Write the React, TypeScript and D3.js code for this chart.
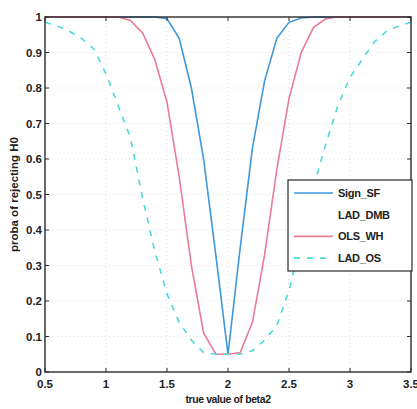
import React from 'react';
import * as d3 from 'd3';

// true value of beta2 (x)
const betaValues = [
  0.5, 0.6, 0.7, 0.8, 0.9, 1.0, 1.1, 1.2, 1.3, 1.4, 1.5, 1.6, 1.7, 1.8, 1.9, 2.0,
  2.1, 2.2, 2.3, 2.4, 2.5, 2.6, 2.7, 2.8, 2.9, 3.0, 3.1, 3.2, 3.3, 3.4, 3.5,
];

// rejection probabilities
const signSF = [
  1, 1, 1, 1, 1, 1, 1, 1, 1, 1, 0.995, 0.94, 0.8, 0.6, 0.33, 0.05,
  0.35, 0.63, 0.82, 0.94, 0.985, 0.997, 1, 1, 1, 1, 1, 1, 1, 1, 1,
];
const olsWH = [
  1, 1, 1, 1, 1, 1, 1, 0.99, 0.955, 0.88, 0.76, 0.55, 0.3, 0.11, 0.05, 0.05,
  0.055, 0.14, 0.33, 0.57, 0.77, 0.9, 0.97, 0.995, 1, 1, 1, 1, 1, 1, 1,
];
const ladOS = [
  0.985, 0.975, 0.96, 0.94, 0.91, 0.84, 0.75, 0.66, 0.49, 0.34, 0.22, 0.14, 0.09, 0.055, 0.05, 0.05,
  0.05, 0.06, 0.09, 0.13, 0.23, 0.37, 0.52, 0.64, 0.75, 0.83, 0.88, 0.93, 0.96, 0.975, 0.985,
];

const legendNames = ['Sign_SF', 'LAD_DMB', 'OLS_WH', 'LAD_OS'];
const xTicks = [0.5, 1, 1.5, 2, 2.5, 3, 3.5];
const yTicks = [0, 0.1, 0.2, 0.3, 0.4, 0.5, 0.6, 0.7, 0.8, 0.9, 1];

const W = 417;
const H = 409;
const margin = { top: 17, right: 6, bottom: 37, left: 45 };
const font = '"Liberation Sans", Arial, sans-serif';

const series = [
  { name: 'Sign_SF', values: signSF, color: '#3f97dc', dash: undefined },
  { name: 'OLS_WH', values: olsWH, color: '#ea7c94', dash: undefined },
  { name: 'LAD_OS', values: ladOS, color: '#4cd9dc', dash: '6,7' },
];
const legendStyle: Record<string, { color: string; dash?: string }> = {
  Sign_SF: { color: '#3f97dc' },
  LAD_DMB: { color: '#ffffff' },
  OLS_WH: { color: '#ea7c94' },
  LAD_OS: { color: '#4cd9dc', dash: '6,7' },
};

export default function App() {
  const x = d3.scaleLinear().domain([0.5, 3.5]).range([margin.left, W - margin.right]);
  const y = d3.scaleLinear().domain([0, 1]).range([H - margin.bottom, margin.top]);
  const x0 = x.range()[0], x1 = x.range()[1];
  const y0 = y.range()[0], y1 = y.range()[1];

  const line = d3
    .line<number>()
    .x((_, i) => x(betaValues[i]))
    .y((d) => y(d));

  const axisColor = '#2a2a2a';
  const tick = 4;

  // legend box
  const lg = { x: 288, y: 180, w: 124, h: 91 };

  return (
    <svg width={W} height={H} style={{ position: 'absolute', left: 0, top: 0, background: '#fff' }}>
      <rect x={0} y={0} width={W} height={H} fill="#fff" />
      {/* grid */}
      <g stroke="#d8d8d8" strokeWidth={0.8} strokeDasharray="1,3">
        {xTicks.slice(1, -1).map((t) => (
          <line key={'gx' + t} x1={x(t)} x2={x(t)} y1={y0} y2={y1} />
        ))}
        {yTicks.slice(1, -1).map((t) => (
          <line key={'gy' + t} x1={x0} x2={x1} y1={y(t)} y2={y(t)} />
        ))}
      </g>
      {/* series */}
      {series.map((s) => (
        <path
          key={s.name}
          d={line(s.values) || ''}
          fill="none"
          stroke={s.color}
          strokeWidth={1.6}
          strokeDasharray={s.dash}
        />
      ))}
      {/* axes box */}
      <rect x={x0} y={y1} width={x1 - x0} height={y0 - y1} fill="none" stroke={axisColor} strokeWidth={1.4} />
      <g stroke={axisColor} strokeWidth={1}>
        {xTicks.map((t) => (
          <g key={'tx' + t}>
            <line x1={x(t)} x2={x(t)} y1={y0} y2={y0 - tick} />
            <line x1={x(t)} x2={x(t)} y1={y1} y2={y1 + tick} />
          </g>
        ))}
        {yTicks.map((t) => (
          <g key={'ty' + t}>
            <line x1={x0} x2={x0 + tick} y1={y(t)} y2={y(t)} />
            <line x1={x1} x2={x1 - tick} y1={y(t)} y2={y(t)} />
          </g>
        ))}
      </g>
      {/* tick labels */}
      <g fontFamily={font} fontWeight="bold" fontSize={11.5} fill="#222">
        {xTicks.map((t) => (
          <text key={'lx' + t} x={x(t)} y={y0 + 16} textAnchor="middle">
            {String(t)}
          </text>
        ))}
        {yTicks.map((t) => (
          <text key={'ly' + t} x={x0 - 3} y={y(t) + 4} textAnchor="end">
            {String(t)}
          </text>
        ))}
      </g>
      {/* axis titles */}
      <text
        x={(x0 + x1) / 2}
        y={H - 6}
        textAnchor="middle"
        fontFamily={font}
        fontWeight="bold"
        fontSize={10.5}
        letterSpacing={-0.4}
        fill="#222"
      >
        true value of beta2
      </text>
      <text
        transform={`translate(18,${(y0 + y1) / 2}) rotate(-90)`}
        textAnchor="middle"
        fontFamily={font}
        fontWeight="bold"
        fontSize={11.5}
        fill="#222"
      >
        proba of rejecting H0
      </text>
      {/* legend */}
      <rect x={lg.x} y={lg.y} width={lg.w} height={lg.h} fill="#fff" stroke={axisColor} strokeWidth={1.2} />
      {legendNames.map((n, i) => {
        const ly = lg.y + 13 + i * 21.7;
        const st = legendStyle[n];
        return (
          <g key={n}>
            <line x1={lg.x + 6} x2={lg.x + 45} y1={ly} y2={ly} stroke={st.color} strokeWidth={1.6} strokeDasharray={st.dash} />
            <text x={lg.x + 50} y={ly + 4} fontFamily={font} fontWeight="bold" fontSize={11} letterSpacing={-0.3} fill="#222">
              {n}
            </text>
          </g>
        );
      })}
    </svg>
  );
}
